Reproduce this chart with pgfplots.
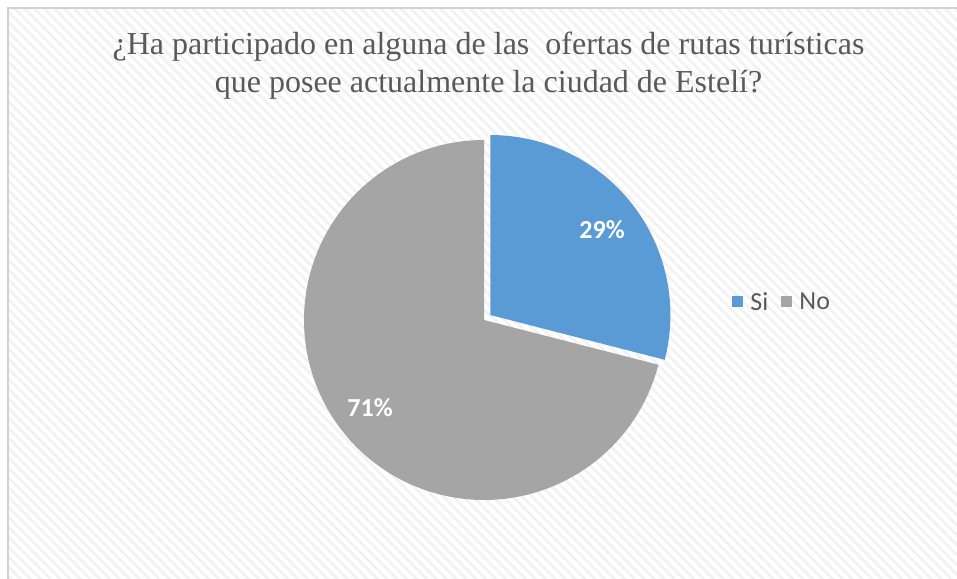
\documentclass[border=0pt]{standalone}
\usepackage{pgfplots}
\usepackage{pgfplotstable}
\pgfplotsset{compat=1.18}
\usetikzlibrary{patterns.meta}
\usepackage{fontspec}
\setmainfont{Liberation Serif}
\newfontfamily\calfont{Carlito}
\definecolor{blueC}{HTML}{5B9BD5}
\definecolor{grayC}{HTML}{A5A5A5}
\definecolor{txt}{HTML}{595959}
\pgfplotstableread{
label value
Si 29
No 71
}\piedata
\pgfplotstablegetelem{0}{value}\of\piedata \let\vSi\pgfplotsretval
\pgfplotstablegetelem{1}{value}\of\piedata \let\vNo\pgfplotsretval
\pgfmathsetmacro\aEnd{90-3.6*\vSi}
\pgfmathsetmacro\aNoEnd{90+3.6*\vNo}
\pgfmathsetmacro\midA{90-1.8*\vSi}
\pgfmathsetmacro\ox{0.045*cos(\midA)}
\pgfmathsetmacro\oy{0.045*sin(\midA)}
\begin{document}
\begin{tikzpicture}[x=1pt,y=1pt]
\useasboundingbox (0,0) rectangle (957,578);
\fill[white] (0,0) rectangle (957,578);
\fill[pattern={Lines[angle=-45,distance=7pt,line width=2.6pt]},pattern color=black!5] (8,-20) rectangle (980,570);
\draw[black!18,line width=1.6pt] (8,-20) -- (8,570) -- (980,570);
\node[anchor=base,text=txt,font=\fontsize{32}{36}\selectfont] at (488.5,523) {¿Ha participado en alguna de las\ \ ofertas de rutas turísticas};
\node[anchor=base,text=txt,font=\fontsize{32}{36}\selectfont] at (488.5,485) {que posee actualmente la ciudad de Estelí?};
\begin{axis}[
  at={(484pt,258pt)}, anchor=center,
  scale only axis, width=450pt, height=450pt,
  xmin=-1.25, xmax=1.25, ymin=-1.25, ymax=1.25,
  hide axis, clip=false,
  legend columns=2,
  legend style={at={(1.045,0.54)}, anchor=west, draw=none, fill=none,
    font=\calfont\fontsize{26}{30}\selectfont, text=txt, column sep=5pt},
  legend image code/.code={\fill[#1,draw=none] (0pt,-5.5pt) rectangle (11pt,5.5pt);},
]
\addplot[fill=blueC, draw=none, domain=\aEnd:90, samples=120]
  ({\ox+cos(x)},{\oy+sin(x)}) -- (axis cs:\ox,\oy) -- cycle;
\addlegendentry{\makebox[24pt][l]{Si}}
\addplot[fill=grayC, draw=none, domain=90:\aNoEnd, samples=200]
  ({cos(x)},{sin(x)}) -- (axis cs:0,0) -- cycle;
\addlegendentry{No}
\node[font=\calfont\bfseries\fontsize{26}{30}\selectfont, text=white] at (axis cs:0.656,0.5) {\vSi\%};
\node[font=\calfont\bfseries\fontsize{26}{30}\selectfont, text=white] at (axis cs:-0.633,-0.489) {\vNo\%};
\end{axis}
\end{tikzpicture}
\end{document}
